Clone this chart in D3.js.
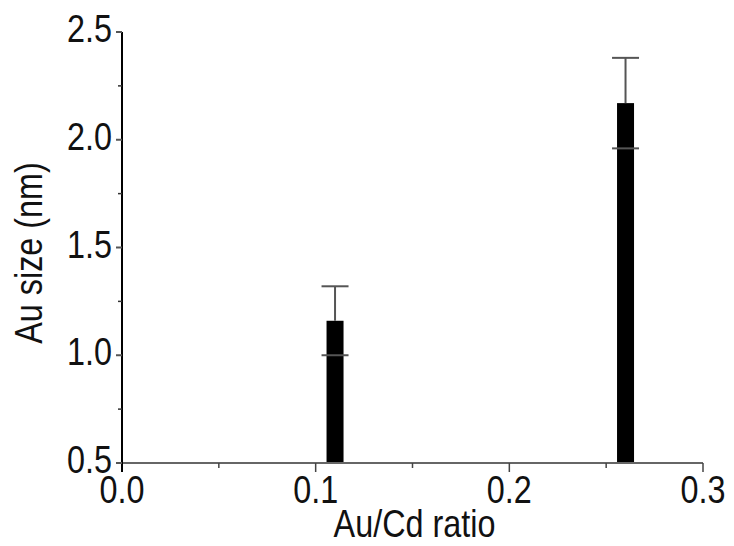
<!DOCTYPE html>
<html>
<head>
<meta charset="utf-8">
<script src="https://cdn.jsdelivr.net/npm/d3@7"></script>
<style>
  html, body { margin: 0; padding: 0; background: #fff; }
  svg { display: block; }
  text { font-family: "Liberation Sans", Arial, Helvetica, sans-serif; fill: #111; }
</style>
</head>
<body>
<svg id="chart" width="734" height="546"></svg>
<script>
// Au/Cd ratio vs Au particle size, with standard deviation bars
const ratios = [0.11, 0.26];
const sizes = [1.16, 2.17];
const errors = [0.16, 0.21];

const xMajorTicks = [0.0, 0.1, 0.2, 0.3];
const xMinorTicks = [0.05, 0.15, 0.25];
const yMajorTicks = [0.5, 1.0, 1.5, 2.0, 2.5];
const yMinorTicks = [0.75, 1.25, 1.75, 2.25];

const xTitle = "Au/Cd ratio";
const yTitle = "Au size (nm)";

const plotLeft = 122, plotRight = 703, plotTop = 32, plotBottom = 463;
const fontSize = 39, squeeze = 0.83;
const barWidth = 17, capWidth = 27;

const svg = d3.select("#chart");

const x = d3.scaleLinear().domain([0, 0.3]).range([plotLeft, plotRight]);
const y = d3.scaleLinear().domain([0.5, 2.5]).range([plotBottom, plotTop]);

// Bars
svg.append("g").selectAll("rect")
  .data(ratios.map((r, i) => ({ r, v: sizes[i], e: errors[i] })))
  .join("rect")
  .attr("x", d => x(d.r) - barWidth / 2)
  .attr("width", barWidth)
  .attr("y", d => y(d.v))
  .attr("height", d => y(0.5) - y(d.v))
  .attr("fill", "#000");

// Error bars: stem above the bar plus caps at both ends
const eb = svg.append("g").attr("stroke", "#555").attr("stroke-width", 2);
ratios.forEach((r, i) => {
  const cx = x(r);
  eb.append("line").attr("x1", cx).attr("x2", cx)
    .attr("y1", y(sizes[i])).attr("y2", y(sizes[i] + errors[i]));
  [sizes[i] + errors[i], sizes[i] - errors[i]].forEach(v => {
    eb.append("line").attr("x1", cx - capWidth / 2).attr("x2", cx + capWidth / 2)
      .attr("y1", y(v)).attr("y2", y(v));
  });
});

// X axis
const xAxis = svg.append("g").attr("transform", `translate(0,${plotBottom})`);
xAxis.append("line").attr("x1", plotLeft).attr("x2", plotRight)
  .attr("stroke", "#666").attr("stroke-width", 2);
xAxis.selectAll("line.major").data(xMajorTicks).join("line")
  .attr("class", "major")
  .attr("x1", d => x(d)).attr("x2", d => x(d)).attr("y1", 0).attr("y2", 9)
  .attr("stroke", "#444").attr("stroke-width", 1.5);
xAxis.selectAll("line.minor").data(xMinorTicks).join("line")
  .attr("class", "minor")
  .attr("x1", d => x(d)).attr("x2", d => x(d)).attr("y1", 0).attr("y2", 5)
  .attr("stroke", "#444").attr("stroke-width", 1.5);
xAxis.selectAll("text").data(xMajorTicks).join("text")
  .attr("transform", d => `translate(${x(d)},40) scale(${squeeze},1)`)
  .attr("text-anchor", "middle")
  .attr("font-size", fontSize)
  .text(d => d3.format(".1f")(d));

// Y axis
const yAxis = svg.append("g");
yAxis.append("line").attr("x1", plotLeft).attr("x2", plotLeft)
  .attr("y1", plotTop).attr("y2", plotBottom + 9)
  .attr("stroke", "#000").attr("stroke-width", 2);
yAxis.selectAll("line.major").data(yMajorTicks).join("line")
  .attr("class", "major")
  .attr("x1", plotLeft - 6).attr("x2", plotLeft).attr("y1", d => y(d)).attr("y2", d => y(d))
  .attr("stroke", "#555").attr("stroke-width", 2);
yAxis.selectAll("line.minor").data(yMinorTicks).join("line")
  .attr("class", "minor")
  .attr("x1", plotLeft - 4).attr("x2", plotLeft).attr("y1", d => y(d)).attr("y2", d => y(d))
  .attr("stroke", "#333").attr("stroke-width", 1.5);
yAxis.selectAll("text").data(yMajorTicks).join("text")
  .attr("transform", d => `translate(${plotLeft - 10},${y(d) + 10}) scale(${squeeze},1)`)
  .attr("text-anchor", "end")
  .attr("font-size", fontSize)
  .text(d => d3.format(".1f")(d));

// Axis titles
svg.append("text")
  .attr("transform", `translate(${(plotLeft + plotRight) / 2 + 2},537) scale(${squeeze},1)`)
  .attr("text-anchor", "middle")
  .attr("font-size", fontSize)
  .text(xTitle);

svg.append("text")
  .attr("transform", `translate(42,253) rotate(-90) scale(${squeeze},1)`)
  .attr("text-anchor", "middle")
  .attr("font-size", fontSize)
  .text(yTitle);
</script>
</body>
</html>
